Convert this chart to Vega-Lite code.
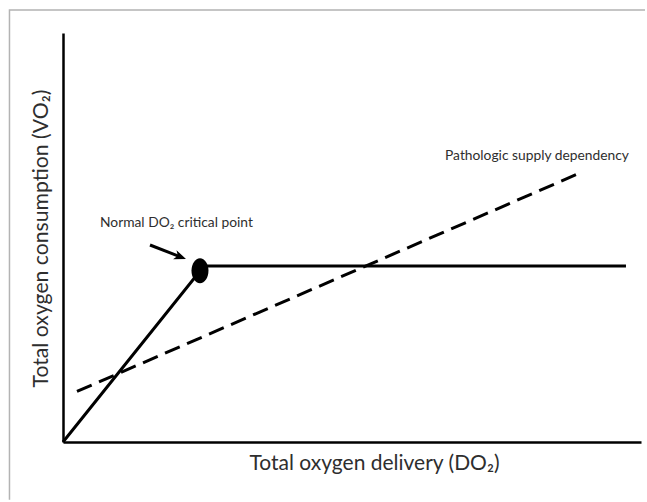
{
  "$schema": "https://vega.github.io/schema/vega-lite/v6.json",
  "width": 578,
  "height": 409,
  "autosize": {"type": "none"},
  "padding": {"left": 63, "top": 33, "right": 6, "bottom": 60},
  "background": "white",
  "config": {"view": {"stroke": null}},
  "layer": [
    {
      "data": {"values": [{"x": 0, "y": 0}, {"x": 100, "y": 100}]},
      "mark": {"type": "point", "opacity": 0},
      "encoding": {
        "x": {
          "field": "x", "type": "quantitative",
          "scale": {"domain": [0, 100], "nice": false, "zero": false},
          "axis": {
            "title": "Total oxygen delivery (DO₂)",
            "domainColor": "black", "domainWidth": 2.5, "ticks": false, "labels": false, "grid": false,
            "titleFont": "Lato", "titleFontSize": 21, "titleFontWeight": "normal", "titleColor": "#2e2e2e",
            "titleX": 311, "titleY": 21, "titleBaseline": "middle", "titleAlign": "center"
          }
        },
        "y": {
          "field": "y", "type": "quantitative",
          "scale": {"domain": [0, 100], "nice": false, "zero": false},
          "axis": {
            "title": "Total oxygen consumption (VO₂)",
            "domainColor": "black", "domainWidth": 2.5, "ticks": false, "labels": false, "grid": false,
            "titleFont": "Lato", "titleFontSize": 21.2, "titleFontWeight": "normal", "titleColor": "#2e2e2e",
            "titleX": -22, "titleY": 205, "titleAngle": -90, "titleBaseline": "middle", "titleAlign": "center"
          }
        }
      }
    },
    {
      "data": {"values": [
        {"x": -9.26, "y": -14.1, "o": 0},
        {"x": -9.26, "y": 105.6, "o": 1},
        {"x": 100.7, "y": 105.6, "o": 2}
      ]},
      "mark": {"type": "line", "color": "#b3b3b3", "strokeWidth": 1.5, "strokeJoin": "miter"},
      "encoding": {
        "x": {"field": "x", "type": "quantitative"},
        "y": {"field": "y", "type": "quantitative"},
        "order": {"field": "o"}
      }
    },
    {
      "data": {"values": [{"x": 2.42, "y": 12.35}, {"x": 89.8, "y": 66.0}]},
      "mark": {"type": "line", "color": "black", "strokeWidth": 3, "strokeDash": [16, 8]},
      "encoding": {
        "x": {"field": "x", "type": "quantitative"},
        "y": {"field": "y", "type": "quantitative"}
      }
    },
    {
      "data": {"values": [{"x": 0, "y": 0}, {"x": 24.4, "y": 43.03}, {"x": 97.4, "y": 43.03}]},
      "mark": {"type": "line", "color": "black", "strokeWidth": 3, "strokeJoin": "miter"},
      "encoding": {
        "x": {"field": "x", "type": "quantitative"},
        "y": {"field": "y", "type": "quantitative"}
      }
    },
    {
      "data": {"values": [{"x": 23.7, "y": 41.86}]},
      "mark": {"type": "point", "shape": "M -0.68,0 A 0.68,1 0 1,0 0.68,0 A 0.68,1 0 1,0 -0.68,0 Z", "size": 625, "filled": true, "color": "black", "opacity": 1},
      "encoding": {
        "x": {"field": "x", "type": "quantitative"},
        "y": {"field": "y", "type": "quantitative"}
      }
    },
    {
      "data": {"values": [{"x": 15.05, "y": 48.17}, {"x": 20.31, "y": 45.28}]},
      "mark": {"type": "line", "color": "black", "strokeWidth": 3},
      "encoding": {
        "x": {"field": "x", "type": "quantitative"},
        "y": {"field": "y", "type": "quantitative"}
      }
    },
    {
      "data": {"values": [{"x": 20.31, "y": 45.28}]},
      "mark": {"type": "point", "shape": "M 1,0 L -1,-0.8 L -0.45,0 L -1,0.8 Z", "size": 144, "filled": true, "color": "black", "opacity": 1, "angle": 21},
      "encoding": {
        "x": {"field": "x", "type": "quantitative"},
        "y": {"field": "y", "type": "quantitative"}
      }
    },
    {
      "data": {"values": [
        {"x": 6.4, "y": 53.5, "label": "Normal DO₂ critical point"},
        {"x": 66.1, "y": 69.9, "label": "Pathologic supply dependency"}
      ]},
      "mark": {"type": "text", "align": "left", "baseline": "middle", "font": "Lato", "fontSize": 13.8, "color": "#2e2e2e"},
      "encoding": {
        "x": {"field": "x", "type": "quantitative"},
        "y": {"field": "y", "type": "quantitative"},
        "text": {"field": "label"}
      }
    }
  ]
}
